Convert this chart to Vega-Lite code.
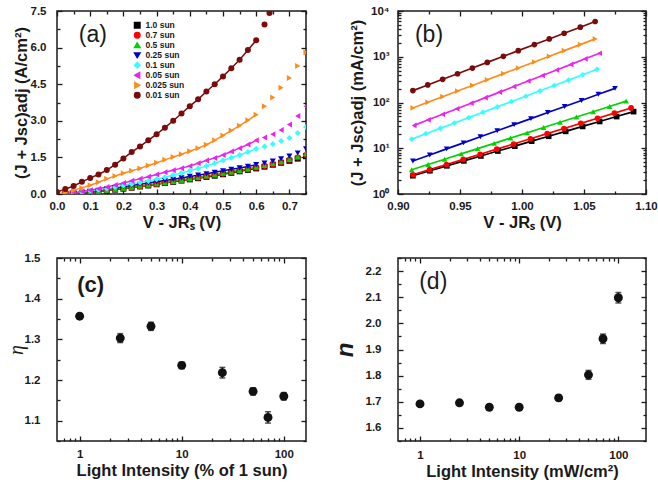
{
"$schema": "https://vega.github.io/schema/vega-lite/v6.json",
"background": "white",
"padding": {"left": 5, "top": 4, "right": 4, "bottom": 4},
"columns": 2,
"spacing": {"row": 64, "column": 92},
"bounds": "flush",
"resolve": {"scale": {"color": "independent", "shape": "independent"}, "legend": {"color": "independent", "shape": "independent"}},
"datasets": {
"a": [
{"s":"1.0 sun","v":0,"j":0},{"s":"1.0 sun","v":0.025,"j":0},{"s":"1.0 sun","v":0.05,"j":0.02},{"s":"1.0 sun","v":0.075,"j":0.04},{"s":"1.0 sun","v":0.1,"j":0.07},{"s":"1.0 sun","v":0.125,"j":0.1},{"s":"1.0 sun","v":0.15,"j":0.14},{"s":"1.0 sun","v":0.175,"j":0.18},{"s":"1.0 sun","v":0.2,"j":0.22},{"s":"1.0 sun","v":0.225,"j":0.26},{"s":"1.0 sun","v":0.25,"j":0.31},{"s":"1.0 sun","v":0.275,"j":0.35},{"s":"1.0 sun","v":0.3,"j":0.4},{"s":"1.0 sun","v":0.325,"j":0.45},{"s":"1.0 sun","v":0.35,"j":0.5},{"s":"1.0 sun","v":0.375,"j":0.55},{"s":"1.0 sun","v":0.4,"j":0.6},{"s":"1.0 sun","v":0.425,"j":0.65},{"s":"1.0 sun","v":0.45,"j":0.7},{"s":"1.0 sun","v":0.475,"j":0.75},{"s":"1.0 sun","v":0.5,"j":0.81},{"s":"1.0 sun","v":0.525,"j":0.87},{"s":"1.0 sun","v":0.55,"j":0.93},{"s":"1.0 sun","v":0.575,"j":0.99},{"s":"1.0 sun","v":0.6,"j":1.05},{"s":"1.0 sun","v":0.625,"j":1.12},{"s":"1.0 sun","v":0.65,"j":1.2},{"s":"1.0 sun","v":0.675,"j":1.28},{"s":"1.0 sun","v":0.7,"j":1.36},{"s":"1.0 sun","v":0.725,"j":1.45},{"s":"1.0 sun","v":0.75,"j":1.55},
{"s":"0.7 sun","v":0,"j":0},{"s":"0.7 sun","v":0.025,"j":0.01},{"s":"0.7 sun","v":0.05,"j":0.03},{"s":"0.7 sun","v":0.075,"j":0.05},{"s":"0.7 sun","v":0.1,"j":0.08},{"s":"0.7 sun","v":0.125,"j":0.11},{"s":"0.7 sun","v":0.15,"j":0.15},{"s":"0.7 sun","v":0.175,"j":0.19},{"s":"0.7 sun","v":0.2,"j":0.23},{"s":"0.7 sun","v":0.225,"j":0.27},{"s":"0.7 sun","v":0.25,"j":0.32},{"s":"0.7 sun","v":0.275,"j":0.36},{"s":"0.7 sun","v":0.3,"j":0.41},{"s":"0.7 sun","v":0.325,"j":0.46},{"s":"0.7 sun","v":0.35,"j":0.51},{"s":"0.7 sun","v":0.375,"j":0.56},{"s":"0.7 sun","v":0.4,"j":0.62},{"s":"0.7 sun","v":0.425,"j":0.67},{"s":"0.7 sun","v":0.45,"j":0.72},{"s":"0.7 sun","v":0.475,"j":0.77},{"s":"0.7 sun","v":0.5,"j":0.83},{"s":"0.7 sun","v":0.525,"j":0.89},{"s":"0.7 sun","v":0.55,"j":0.95},{"s":"0.7 sun","v":0.575,"j":1.01},{"s":"0.7 sun","v":0.6,"j":1.08},{"s":"0.7 sun","v":0.625,"j":1.15},{"s":"0.7 sun","v":0.65,"j":1.22},{"s":"0.7 sun","v":0.675,"j":1.3},{"s":"0.7 sun","v":0.7,"j":1.4},{"s":"0.7 sun","v":0.725,"j":1.5},{"s":"0.7 sun","v":0.75,"j":1.6},
{"s":"0.5 sun","v":0,"j":0},{"s":"0.5 sun","v":0.025,"j":0.01},{"s":"0.5 sun","v":0.05,"j":0.03},{"s":"0.5 sun","v":0.075,"j":0.06},{"s":"0.5 sun","v":0.1,"j":0.09},{"s":"0.5 sun","v":0.125,"j":0.12},{"s":"0.5 sun","v":0.15,"j":0.16},{"s":"0.5 sun","v":0.175,"j":0.2},{"s":"0.5 sun","v":0.2,"j":0.24},{"s":"0.5 sun","v":0.225,"j":0.28},{"s":"0.5 sun","v":0.25,"j":0.33},{"s":"0.5 sun","v":0.275,"j":0.37},{"s":"0.5 sun","v":0.3,"j":0.42},{"s":"0.5 sun","v":0.325,"j":0.47},{"s":"0.5 sun","v":0.35,"j":0.52},{"s":"0.5 sun","v":0.375,"j":0.57},{"s":"0.5 sun","v":0.4,"j":0.63},{"s":"0.5 sun","v":0.425,"j":0.68},{"s":"0.5 sun","v":0.45,"j":0.74},{"s":"0.5 sun","v":0.475,"j":0.79},{"s":"0.5 sun","v":0.5,"j":0.85},{"s":"0.5 sun","v":0.525,"j":0.91},{"s":"0.5 sun","v":0.55,"j":0.97},{"s":"0.5 sun","v":0.575,"j":1.03},{"s":"0.5 sun","v":0.6,"j":1.1},{"s":"0.5 sun","v":0.625,"j":1.17},{"s":"0.5 sun","v":0.65,"j":1.25},{"s":"0.5 sun","v":0.675,"j":1.33},{"s":"0.5 sun","v":0.7,"j":1.42},{"s":"0.5 sun","v":0.725,"j":1.53},{"s":"0.5 sun","v":0.75,"j":1.65},
{"s":"0.25 sun","v":0,"j":0},{"s":"0.25 sun","v":0.025,"j":0.01},{"s":"0.25 sun","v":0.05,"j":0.03},{"s":"0.25 sun","v":0.075,"j":0.07},{"s":"0.25 sun","v":0.1,"j":0.11},{"s":"0.25 sun","v":0.125,"j":0.15},{"s":"0.25 sun","v":0.15,"j":0.2},{"s":"0.25 sun","v":0.175,"j":0.25},{"s":"0.25 sun","v":0.2,"j":0.3},{"s":"0.25 sun","v":0.225,"j":0.35},{"s":"0.25 sun","v":0.25,"j":0.4},{"s":"0.25 sun","v":0.275,"j":0.45},{"s":"0.25 sun","v":0.3,"j":0.5},{"s":"0.25 sun","v":0.325,"j":0.55},{"s":"0.25 sun","v":0.35,"j":0.6},{"s":"0.25 sun","v":0.375,"j":0.66},{"s":"0.25 sun","v":0.4,"j":0.72},{"s":"0.25 sun","v":0.425,"j":0.77},{"s":"0.25 sun","v":0.45,"j":0.83},{"s":"0.25 sun","v":0.475,"j":0.89},{"s":"0.25 sun","v":0.5,"j":0.95},{"s":"0.25 sun","v":0.525,"j":1.01},{"s":"0.25 sun","v":0.55,"j":1.07},{"s":"0.25 sun","v":0.575,"j":1.13},{"s":"0.25 sun","v":0.6,"j":1.2},{"s":"0.25 sun","v":0.625,"j":1.27},{"s":"0.25 sun","v":0.65,"j":1.35},{"s":"0.25 sun","v":0.675,"j":1.44},{"s":"0.25 sun","v":0.7,"j":1.55},{"s":"0.25 sun","v":0.725,"j":1.68},{"s":"0.25 sun","v":0.75,"j":1.85},
{"s":"0.1 sun","v":0,"j":0},{"s":"0.1 sun","v":0.025,"j":0.01},{"s":"0.1 sun","v":0.05,"j":0.04},{"s":"0.1 sun","v":0.075,"j":0.08},{"s":"0.1 sun","v":0.1,"j":0.13},{"s":"0.1 sun","v":0.125,"j":0.17},{"s":"0.1 sun","v":0.15,"j":0.22},{"s":"0.1 sun","v":0.175,"j":0.28},{"s":"0.1 sun","v":0.2,"j":0.35},{"s":"0.1 sun","v":0.225,"j":0.41},{"s":"0.1 sun","v":0.25,"j":0.47},{"s":"0.1 sun","v":0.275,"j":0.53},{"s":"0.1 sun","v":0.3,"j":0.6},{"s":"0.1 sun","v":0.325,"j":0.69},{"s":"0.1 sun","v":0.35,"j":0.78},{"s":"0.1 sun","v":0.375,"j":0.86},{"s":"0.1 sun","v":0.4,"j":0.95},{"s":"0.1 sun","v":0.425,"j":1.05},{"s":"0.1 sun","v":0.45,"j":1.15},{"s":"0.1 sun","v":0.475,"j":1.26},{"s":"0.1 sun","v":0.5,"j":1.38},{"s":"0.1 sun","v":0.525,"j":1.49},{"s":"0.1 sun","v":0.55,"j":1.6},{"s":"0.1 sun","v":0.575,"j":1.72},{"s":"0.1 sun","v":0.6,"j":1.85},{"s":"0.1 sun","v":0.625,"j":1.95},{"s":"0.1 sun","v":0.65,"j":2.05},{"s":"0.1 sun","v":0.675,"j":2.17},{"s":"0.1 sun","v":0.7,"j":2.3},{"s":"0.1 sun","v":0.725,"j":2.5},{"s":"0.1 sun","v":0.75,"j":2.75},
{"s":"0.05 sun","v":0,"j":0},{"s":"0.05 sun","v":0.025,"j":0.02},{"s":"0.05 sun","v":0.05,"j":0.05},{"s":"0.05 sun","v":0.075,"j":0.1},{"s":"0.05 sun","v":0.1,"j":0.15},{"s":"0.05 sun","v":0.125,"j":0.22},{"s":"0.05 sun","v":0.15,"j":0.29},{"s":"0.05 sun","v":0.175,"j":0.37},{"s":"0.05 sun","v":0.2,"j":0.45},{"s":"0.05 sun","v":0.225,"j":0.54},{"s":"0.05 sun","v":0.25,"j":0.62},{"s":"0.05 sun","v":0.275,"j":0.71},{"s":"0.05 sun","v":0.3,"j":0.8},{"s":"0.05 sun","v":0.325,"j":0.89},{"s":"0.05 sun","v":0.35,"j":0.97},{"s":"0.05 sun","v":0.375,"j":1.06},{"s":"0.05 sun","v":0.4,"j":1.15},{"s":"0.05 sun","v":0.425,"j":1.26},{"s":"0.05 sun","v":0.45,"j":1.37},{"s":"0.05 sun","v":0.475,"j":1.48},{"s":"0.05 sun","v":0.5,"j":1.6},{"s":"0.05 sun","v":0.525,"j":1.74},{"s":"0.05 sun","v":0.55,"j":1.88},{"s":"0.05 sun","v":0.575,"j":2.03},{"s":"0.05 sun","v":0.6,"j":2.2},{"s":"0.05 sun","v":0.625,"j":2.32},{"s":"0.05 sun","v":0.65,"j":2.45},{"s":"0.05 sun","v":0.675,"j":2.62},{"s":"0.05 sun","v":0.7,"j":2.85},{"s":"0.05 sun","v":0.725,"j":3.2},{"s":"0.05 sun","v":0.75,"j":3.6},
{"s":"0.025 sun","v":0,"j":0},{"s":"0.025 sun","v":0.025,"j":0.06},{"s":"0.025 sun","v":0.05,"j":0.15},{"s":"0.025 sun","v":0.075,"j":0.25},{"s":"0.025 sun","v":0.1,"j":0.36},{"s":"0.025 sun","v":0.125,"j":0.48},{"s":"0.025 sun","v":0.15,"j":0.62},{"s":"0.025 sun","v":0.175,"j":0.74},{"s":"0.025 sun","v":0.2,"j":0.85},{"s":"0.025 sun","v":0.225,"j":0.95},{"s":"0.025 sun","v":0.25,"j":1.05},{"s":"0.025 sun","v":0.275,"j":1.17},{"s":"0.025 sun","v":0.3,"j":1.28},{"s":"0.025 sun","v":0.325,"j":1.4},{"s":"0.025 sun","v":0.35,"j":1.52},{"s":"0.025 sun","v":0.375,"j":1.63},{"s":"0.025 sun","v":0.4,"j":1.75},{"s":"0.025 sun","v":0.425,"j":1.88},{"s":"0.025 sun","v":0.45,"j":2.02},{"s":"0.025 sun","v":0.475,"j":2.2},{"s":"0.025 sun","v":0.5,"j":2.4},{"s":"0.025 sun","v":0.525,"j":2.6},{"s":"0.025 sun","v":0.55,"j":2.8},{"s":"0.025 sun","v":0.575,"j":3.02},{"s":"0.025 sun","v":0.6,"j":3.25},{"s":"0.025 sun","v":0.625,"j":3.6},{"s":"0.025 sun","v":0.65,"j":3.95},{"s":"0.025 sun","v":0.675,"j":4.35},{"s":"0.025 sun","v":0.7,"j":4.75},{"s":"0.025 sun","v":0.725,"j":5.25},{"s":"0.025 sun","v":0.75,"j":5.8},
{"s":"0.01 sun","v":0,"j":0.08},{"s":"0.01 sun","v":0.025,"j":0.2},{"s":"0.01 sun","v":0.05,"j":0.33},{"s":"0.01 sun","v":0.075,"j":0.5},{"s":"0.01 sun","v":0.1,"j":0.66},{"s":"0.01 sun","v":0.125,"j":0.8},{"s":"0.01 sun","v":0.15,"j":0.98},{"s":"0.01 sun","v":0.175,"j":1.2},{"s":"0.01 sun","v":0.2,"j":1.46},{"s":"0.01 sun","v":0.225,"j":1.72},{"s":"0.01 sun","v":0.25,"j":1.95},{"s":"0.01 sun","v":0.275,"j":2.2},{"s":"0.01 sun","v":0.3,"j":2.45},{"s":"0.01 sun","v":0.325,"j":2.72},{"s":"0.01 sun","v":0.35,"j":3.0},{"s":"0.01 sun","v":0.375,"j":3.3},{"s":"0.01 sun","v":0.4,"j":3.6},{"s":"0.01 sun","v":0.425,"j":3.88},{"s":"0.01 sun","v":0.45,"j":4.2},{"s":"0.01 sun","v":0.475,"j":4.5},{"s":"0.01 sun","v":0.5,"j":4.82},{"s":"0.01 sun","v":0.525,"j":5.15},{"s":"0.01 sun","v":0.55,"j":5.5},{"s":"0.01 sun","v":0.575,"j":5.9},{"s":"0.01 sun","v":0.6,"j":6.3},{"s":"0.01 sun","v":0.625,"j":6.95},{"s":"0.01 sun","v":0.64,"j":7.42}
],
"b": [
{"s":"1.0 sun","v":0.912,"j":2.51},{"s":"1.0 sun","v":0.9257,"j":3.22},{"s":"1.0 sun","v":0.9394,"j":4.13},{"s":"1.0 sun","v":0.9531,"j":5.29},{"s":"1.0 sun","v":0.9668,"j":6.78},{"s":"1.0 sun","v":0.9805,"j":8.69},{"s":"1.0 sun","v":0.9942,"j":11.1},{"s":"1.0 sun","v":1.0078,"j":14.3},{"s":"1.0 sun","v":1.0215,"j":18.3},{"s":"1.0 sun","v":1.0352,"j":23.4},{"s":"1.0 sun","v":1.0489,"j":30.0},{"s":"1.0 sun","v":1.0626,"j":38.5},{"s":"1.0 sun","v":1.0763,"j":49.3},{"s":"1.0 sun","v":1.09,"j":63.2},
{"s":"0.7 sun","v":0.912,"j":2.63},{"s":"0.7 sun","v":0.9255,"j":3.4},{"s":"0.7 sun","v":0.9391,"j":4.42},{"s":"0.7 sun","v":0.9526,"j":5.71},{"s":"0.7 sun","v":0.9662,"j":7.41},{"s":"0.7 sun","v":0.9797,"j":9.59},{"s":"0.7 sun","v":0.9932,"j":12.4},{"s":"0.7 sun","v":1.0068,"j":16.1},{"s":"0.7 sun","v":1.0203,"j":20.9},{"s":"0.7 sun","v":1.0338,"j":27.0},{"s":"0.7 sun","v":1.0474,"j":35.0},{"s":"0.7 sun","v":1.0609,"j":45.3},{"s":"0.7 sun","v":1.0745,"j":58.7},{"s":"0.7 sun","v":1.088,"j":76.0},
{"s":"0.5 sun","v":0.911,"j":3.39},{"s":"0.5 sun","v":0.9243,"j":4.42},{"s":"0.5 sun","v":0.9376,"j":5.76},{"s":"0.5 sun","v":0.9509,"j":7.52},{"s":"0.5 sun","v":0.9642,"j":9.8},{"s":"0.5 sun","v":0.9775,"j":12.8},{"s":"0.5 sun","v":0.9908,"j":16.7},{"s":"0.5 sun","v":1.0041,"j":21.7},{"s":"0.5 sun","v":1.0174,"j":28.4},{"s":"0.5 sun","v":1.0307,"j":37.0},{"s":"0.5 sun","v":1.044,"j":48.2},{"s":"0.5 sun","v":1.0573,"j":62.9},{"s":"0.5 sun","v":1.0706,"j":82.0},{"s":"0.5 sun","v":1.084,"j":107},
{"s":"0.25 sun","v":0.912,"j":5.25},{"s":"0.25 sun","v":0.9256,"j":7.12},{"s":"0.25 sun","v":0.9392,"j":9.67},{"s":"0.25 sun","v":0.9528,"j":13.1},{"s":"0.25 sun","v":0.9664,"j":17.8},{"s":"0.25 sun","v":0.98,"j":24.2},{"s":"0.25 sun","v":0.9936,"j":32.8},{"s":"0.25 sun","v":1.0072,"j":44.5},{"s":"0.25 sun","v":1.0208,"j":60.4},{"s":"0.25 sun","v":1.0344,"j":82.0},{"s":"0.25 sun","v":1.048,"j":111},{"s":"0.25 sun","v":1.0616,"j":151},{"s":"0.25 sun","v":1.075,"j":204},
{"s":"0.1 sun","v":0.911,"j":15.8},{"s":"0.1 sun","v":0.9225,"j":20.8},{"s":"0.1 sun","v":0.934,"j":27.2},{"s":"0.1 sun","v":0.9455,"j":35.6},{"s":"0.1 sun","v":0.957,"j":46.7},{"s":"0.1 sun","v":0.9685,"j":61.2},{"s":"0.1 sun","v":0.98,"j":80.1},{"s":"0.1 sun","v":0.9915,"j":105},{"s":"0.1 sun","v":1.003,"j":137},{"s":"0.1 sun","v":1.0145,"j":180},{"s":"0.1 sun","v":1.026,"j":236},{"s":"0.1 sun","v":1.0375,"j":309},{"s":"0.1 sun","v":1.049,"j":405},{"s":"0.1 sun","v":1.0605,"j":531},
{"s":"0.05 sun","v":0.913,"j":31.6},{"s":"0.05 sun","v":0.9245,"j":41.8},{"s":"0.05 sun","v":0.936,"j":55.2},{"s":"0.05 sun","v":0.9475,"j":73.0},{"s":"0.05 sun","v":0.959,"j":96.6},{"s":"0.05 sun","v":0.9705,"j":127.7},{"s":"0.05 sun","v":0.982,"j":168.8},{"s":"0.05 sun","v":0.9935,"j":223},{"s":"0.05 sun","v":1.005,"j":295},{"s":"0.05 sun","v":1.0165,"j":390},{"s":"0.05 sun","v":1.028,"j":515},{"s":"0.05 sun","v":1.0395,"j":681},{"s":"0.05 sun","v":1.051,"j":901},{"s":"0.05 sun","v":1.0625,"j":1191},
{"s":"0.025 sun","v":0.912,"j":76},{"s":"0.025 sun","v":0.924,"j":101},{"s":"0.025 sun","v":0.936,"j":134},{"s":"0.025 sun","v":0.948,"j":178},{"s":"0.025 sun","v":0.96,"j":236},{"s":"0.025 sun","v":0.972,"j":313},{"s":"0.025 sun","v":0.985,"j":427},{"s":"0.025 sun","v":0.997,"j":566},{"s":"0.025 sun","v":1.01,"j":769},{"s":"0.025 sun","v":1.022,"j":1023},{"s":"0.025 sun","v":1.034,"j":1358},{"s":"0.025 sun","v":1.047,"j":1845},{"s":"0.025 sun","v":1.059,"j":2455},
{"s":"0.01 sun","v":0.912,"j":182},{"s":"0.01 sun","v":0.924,"j":242},{"s":"0.01 sun","v":0.936,"j":321},{"s":"0.01 sun","v":0.948,"j":426},{"s":"0.01 sun","v":0.96,"j":566},{"s":"0.01 sun","v":0.972,"j":752},{"s":"0.01 sun","v":0.985,"j":1023},{"s":"0.01 sun","v":0.997,"j":1358},{"s":"0.01 sun","v":1.01,"j":1847},{"s":"0.01 sun","v":1.022,"j":2453},{"s":"0.01 sun","v":1.034,"j":3258},{"s":"0.01 sun","v":1.047,"j":4430},{"s":"0.01 sun","v":1.059,"j":5888}
],
"c": [
{"i":1,"eta":1.357,"lo":1.351,"hi":1.363},{"i":2.5,"eta":1.303,"lo":1.292,"hi":1.314},{"i":5,"eta":1.332,"lo":1.322,"hi":1.342},{"i":10,"eta":1.236,"lo":1.228,"hi":1.244},{"i":25,"eta":1.218,"lo":1.205,"hi":1.231},{"i":50,"eta":1.172,"lo":1.163,"hi":1.181},{"i":70,"eta":1.108,"lo":1.094,"hi":1.122},{"i":100,"eta":1.16,"lo":1.151,"hi":1.169}
],
"d": [
{"i":1,"n":1.692,"lo":1.684,"hi":1.7},{"i":2.5,"n":1.696,"lo":1.688,"hi":1.704},{"i":5,"n":1.679,"lo":1.672,"hi":1.686},{"i":10,"n":1.679,"lo":1.672,"hi":1.686},{"i":25,"n":1.715,"lo":1.705,"hi":1.725},{"i":50,"n":1.803,"lo":1.786,"hi":1.82},{"i":70,"n":1.941,"lo":1.923,"hi":1.959},{"i":100,"n":2.098,"lo":2.078,"hi":2.118}
]
},
"concat": [
{
"width": 249, "height": 183,
"resolve": {"axis": {"x": "independent", "y": "independent"}},
"layer": [
{"data": {"name": "a"}, "transform": [{"filter": "datum.v <= 0.6"}],
 "mark": {"type": "line", "strokeWidth": 1.5, "clip": true},
 "encoding": {
  "x": {"field": "v", "type": "quantitative", "scale": {"domain": [0, 0.75], "nice": false, "zero": false},
   "axis": {"orient": "bottom", "values": [0,0.05,0.1,0.15,0.2,0.25,0.3,0.35,0.4,0.45,0.5,0.55,0.6,0.65,0.7,0.75], "labelExpr": "round(datum.value*20)%2==0 ? format(datum.value,'.1f') : ''", "tickDash": {"condition": {"test": "round(datum.value*20)%2==1", "value": [3,10]}, "value": [6,0]}, "labelPadding": 11, "title": "V - JRₛ (V)", "titlePadding": 3}},
  "y": {"field": "j", "type": "quantitative", "scale": {"domain": [0, 7.5], "nice": false, "zero": false},
   "axis": {"orient": "left", "values": [0,0.75,1.5,2.25,3,3.75,4.5,5.25,6,6.75,7.5], "labelExpr": "round(datum.value/0.75)%2==0 ? format(datum.value,'.1f') : ''", "tickDash": {"condition": {"test": "round(datum.value/0.75)%2==1", "value": [3,10]}, "value": [6,0]}, "labelPadding": 16, "title": "(J + Jsc)adj (A/cm²)", "titlePadding": 1}},
  "color": {"field": "s", "type": "nominal", "scale": {"domain": ["1.0 sun","0.7 sun","0.5 sun","0.25 sun","0.1 sun","0.05 sun","0.025 sun","0.01 sun"], "range": ["#000000","#ff0000","#00d400","#0000cc","#33ffff","#ee22ee","#ff8c1a","#7b0a0a"]},
   "legend": {"orient": "none", "legendX": 76, "legendY": 10, "title": null, "padding": 0, "rowPadding": -2.3, "symbolSize": 30, "labelFontSize": 8.5, "labelFont": "Liberation Sans", "labelFontWeight": "bold", "labelColor": "#1a1a1a", "labelOffset": 4}}
 }},
{"data": {"name": "a"},
 "mark": {"type": "point", "filled": true, "size": 36, "opacity": 1, "clip": true},
 "encoding": {
  "x": {"field": "v", "type": "quantitative", "axis": null},
  "y": {"field": "j", "type": "quantitative", "axis": null},
  "color": {"field": "s", "type": "nominal", "scale": {"domain": ["1.0 sun","0.7 sun","0.5 sun","0.25 sun","0.1 sun","0.05 sun","0.025 sun","0.01 sun"], "range": ["#000000","#ff0000","#00d400","#0000cc","#33ffff","#ee22ee","#ff8c1a","#7b0a0a"]},
   "legend": {"orient": "none", "legendX": 76, "legendY": 10, "title": null, "padding": 0, "rowPadding": -2.3, "symbolSize": 30, "labelFontSize": 8.5, "labelFont": "Liberation Sans", "labelFontWeight": "bold", "labelColor": "#1a1a1a", "labelOffset": 4}},
  "shape": {"field": "s", "type": "nominal", "scale": {"domain": ["1.0 sun","0.7 sun","0.5 sun","0.25 sun","0.1 sun","0.05 sun","0.025 sun","0.01 sun"], "range": ["square","circle","triangle-up","triangle-down","diamond","triangle-left","triangle-right","circle"]},
   "legend": {"orient": "none", "legendX": 76, "legendY": 10, "title": null, "padding": 0, "rowPadding": -2.3, "symbolSize": 30, "labelFontSize": 8.5, "labelFont": "Liberation Sans", "labelFontWeight": "bold", "labelColor": "#1a1a1a", "labelOffset": 4}}
 }},
{"data": {"values": [{"t": "(a)"}]},
 "mark": {"type": "text", "font": "Liberation Sans", "fontSize": 23, "color": "#1a1a1a", "baseline": "middle"},
 "encoding": {
  "text": {"field": "t"},
  "x": {"datum": 0.108, "type": "quantitative", "axis": {"orient": "top", "labels": false, "title": null, "values": [0,0.05,0.1,0.15,0.2,0.25,0.3,0.35,0.4,0.45,0.5,0.55,0.6,0.65,0.7,0.75], "tickDash": {"condition": {"test": "round(datum.value*20)%2==1", "value": [3,10]}, "value": [6,0]}}},
  "y": {"datum": 6.5, "type": "quantitative", "axis": {"orient": "right", "labels": false, "title": null, "values": [0,0.75,1.5,2.25,3,3.75,4.5,5.25,6,6.75,7.5], "tickDash": {"condition": {"test": "round(datum.value/0.75)%2==1", "value": [3,10]}, "value": [6,0]}}}
 }}
]
},
{
"width": 248, "height": 183,
"resolve": {"axis": {"x": "independent", "y": "independent"}},
"layer": [
{"data": {"name": "b"},
 "mark": {"type": "line", "strokeWidth": 1.7, "clip": true},
 "encoding": {
  "x": {"field": "v", "type": "quantitative", "scale": {"domain": [0.9, 1.1], "nice": false, "zero": false},
   "axis": {"orient": "bottom", "values": [0.9,0.925,0.95,0.975,1,1.025,1.05,1.075,1.1], "labelExpr": "round(datum.value*40)%2==0 ? format(datum.value,'.2f') : ''", "tickDash": {"condition": {"test": "round(datum.value*40)%2==1", "value": [3,10]}, "value": [6,0]}, "labelPadding": 11, "title": "V - JRₛ (V)", "titlePadding": 3}},
  "y": {"field": "j", "type": "quantitative", "scale": {"type": "log", "domain": [1, 10000], "nice": false},
   "axis": {"orient": "left", "values": [1,2,3,4,5,6,7,8,9,10,20,30,40,50,60,70,80,90,100,200,300,400,500,600,700,800,900,1000,2000,3000,4000,5000,6000,7000,8000,9000,10000], "labelExpr": "datum.value==1?'10⁰':datum.value==10?'10¹':datum.value==100?'10²':datum.value==1000?'10³':datum.value==10000?'10⁴':''", "tickDash": {"condition": {"test": "indexof([1,10,100,1000,10000],datum.value)<0", "value": [3,10]}, "value": [6,0]}, "labelPadding": 14, "title": "(J + Jsc)adj (mA/cm²)", "titlePadding": 5}},
  "color": {"field": "s", "type": "nominal", "scale": {"domain": ["1.0 sun","0.7 sun","0.5 sun","0.25 sun","0.1 sun","0.05 sun","0.025 sun","0.01 sun"], "range": ["#000000","#ff0000","#00d400","#0000cc","#33ffff","#ee22ee","#ff8c1a","#7b0a0a"]}, "legend": null}
 }},
{"data": {"name": "b"},
 "mark": {"type": "point", "filled": true, "size": 32, "opacity": 1, "clip": true},
 "encoding": {
  "x": {"field": "v", "type": "quantitative", "axis": null},
  "y": {"field": "j", "type": "quantitative", "axis": null},
  "color": {"field": "s", "type": "nominal", "scale": {"domain": ["1.0 sun","0.7 sun","0.5 sun","0.25 sun","0.1 sun","0.05 sun","0.025 sun","0.01 sun"], "range": ["#000000","#ff0000","#00d400","#0000cc","#33ffff","#ee22ee","#ff8c1a","#7b0a0a"]}, "legend": null},
  "shape": {"field": "s", "type": "nominal", "scale": {"domain": ["1.0 sun","0.7 sun","0.5 sun","0.25 sun","0.1 sun","0.05 sun","0.025 sun","0.01 sun"], "range": ["square","circle","triangle-up","triangle-down","diamond","triangle-left","triangle-right","circle"]}, "legend": null}
 }},
{"data": {"values": [{"t": "(b)"}]},
 "mark": {"type": "text", "font": "Liberation Sans", "fontSize": 23, "color": "#1a1a1a", "baseline": "middle"},
 "encoding": {
  "text": {"field": "t"},
  "x": {"datum": 0.925, "type": "quantitative", "axis": {"orient": "top", "labels": false, "title": null, "values": [0.9,0.925,0.95,0.975,1,1.025,1.05,1.075,1.1], "tickDash": {"condition": {"test": "round(datum.value*40)%2==1", "value": [3,10]}, "value": [6,0]}}},
  "y": {"datum": 2985, "type": "quantitative", "axis": {"orient": "right", "labels": false, "title": null, "values": [1,2,3,4,5,6,7,8,9,10,20,30,40,50,60,70,80,90,100,200,300,400,500,600,700,800,900,1000,2000,3000,4000,5000,6000,7000,8000,9000,10000], "tickDash": {"condition": {"test": "indexof([1,10,100,1000,10000],datum.value)<0", "value": [3,10]}, "value": [6,0]}}}
 }}
]
},
{
"width": 249, "height": 183,
"resolve": {"axis": {"x": "independent", "y": "independent"}},
"layer": [
{"data": {"name": "c"},
 "mark": {"type": "errorbar", "ticks": {"size": 6, "thickness": 1.5}, "rule": {"strokeWidth": 1.5}, "color": "#111111"},
 "encoding": {
  "x": {"field": "i", "type": "quantitative", "scale": {"type": "log", "domain": [0.6, 165], "nice": false}, "axis": null},
  "y": {"field": "lo", "type": "quantitative", "scale": {"domain": [1.05, 1.5], "nice": false, "zero": false}, "axis": null},
  "y2": {"field": "hi"}
 }},
{"data": {"name": "c"},
 "mark": {"type": "point", "filled": true, "size": 80, "opacity": 1, "color": "#111111"},
 "encoding": {
  "x": {"field": "i", "type": "quantitative",
   "axis": {"orient": "bottom", "values": [0.7,0.8,0.9,1,2,3,4,5,6,7,8,9,10,20,30,40,50,60,70,80,90,100], "labelExpr": "datum.value==1?'1':datum.value==10?'10':datum.value==100?'100':''", "tickDash": {"condition": {"test": "indexof([1,10,100],datum.value)<0", "value": [3,10]}, "value": [6,0]}, "labelPadding": 12, "title": "Light Intensity (% of 1 sun)", "titlePadding": 3}},
  "y": {"field": "eta", "type": "quantitative",
   "axis": {"orient": "left", "values": [1.05,1.1,1.15,1.2,1.25,1.3,1.35,1.4,1.45,1.5], "labelExpr": "round(datum.value*20)%2==0 ? format(datum.value,'.1f') : ''", "tickDash": {"condition": {"test": "round(datum.value*20)%2==1", "value": [3,10]}, "value": [6,0]}, "labelPadding": 22, "title": "η", "titleFont": "Liberation Serif", "titleFontStyle": "italic", "titleFontWeight": "normal", "titleFontSize": 20, "titlePadding": -2}}
 }},
{"data": {"values": [{"t": "(c)"}]},
 "mark": {"type": "text", "font": "Liberation Sans", "fontSize": 22, "fontWeight": "bold", "color": "#1a1a1a", "baseline": "middle"},
 "encoding": {
  "text": {"field": "t"},
  "x": {"datum": 1.28, "type": "quantitative", "axis": {"orient": "top", "labels": false, "title": null, "values": [0.7,0.8,0.9,1,2,3,4,5,6,7,8,9,10,20,30,40,50,60,70,80,90,100], "tickDash": {"condition": {"test": "indexof([1,10,100],datum.value)<0", "value": [3,10]}, "value": [6,0]}}},
  "y": {"datum": 1.434, "type": "quantitative", "axis": {"orient": "right", "labels": false, "title": null, "values": [1.05,1.1,1.15,1.2,1.25,1.3,1.35,1.4,1.45,1.5], "tickDash": {"condition": {"test": "round(datum.value*20)%2==1", "value": [3,10]}, "value": [6,0]}}}
 }}
]
},
{
"width": 248, "height": 183,
"resolve": {"axis": {"x": "independent", "y": "independent"}},
"layer": [
{"data": {"name": "d"},
 "mark": {"type": "errorbar", "ticks": {"size": 6, "thickness": 1.5}, "rule": {"strokeWidth": 1.5}, "color": "#111111"},
 "encoding": {
  "x": {"field": "i", "type": "quantitative", "scale": {"type": "log", "domain": [0.6, 190], "nice": false}, "axis": null},
  "y": {"field": "lo", "type": "quantitative", "scale": {"domain": [1.55, 2.25], "nice": false, "zero": false}, "axis": null},
  "y2": {"field": "hi"}
 }},
{"data": {"name": "d"},
 "mark": {"type": "point", "filled": true, "size": 80, "opacity": 1, "color": "#111111"},
 "encoding": {
  "x": {"field": "i", "type": "quantitative",
   "axis": {"orient": "bottom", "values": [0.7,0.8,0.9,1,2,3,4,5,6,7,8,9,10,20,30,40,50,60,70,80,90,100], "labelExpr": "datum.value==1?'1':datum.value==10?'10':datum.value==100?'100':''", "tickDash": {"condition": {"test": "indexof([1,10,100],datum.value)<0", "value": [3,10]}, "value": [6,0]}, "labelPadding": 13, "title": "Light Intensity (mW/cm²)", "titlePadding": 3}},
  "y": {"field": "n", "type": "quantitative",
   "axis": {"orient": "left", "values": [1.55,1.6,1.65,1.7,1.75,1.8,1.85,1.9,1.95,2.0,2.05,2.1,2.15,2.2,2.25], "labelExpr": "round(datum.value*20)%2==0 ? format(datum.value,'.1f') : ''", "tickDash": {"condition": {"test": "round(datum.value*20)%2==1", "value": [3,10]}, "value": [6,0]}, "labelPadding": 22, "title": "n", "titleFontStyle": "italic", "titleFontSize": 24, "titlePadding": 8}}
 }},
{"data": {"values": [{"t": "(d)"}]},
 "mark": {"type": "text", "font": "Liberation Sans", "fontSize": 23, "color": "#1a1a1a", "baseline": "middle"},
 "encoding": {
  "text": {"field": "t"},
  "x": {"datum": 1.36, "type": "quantitative", "axis": {"orient": "top", "labels": false, "title": null, "values": [0.7,0.8,0.9,1,2,3,4,5,6,7,8,9,10,20,30,40,50,60,70,80,90,100], "tickDash": {"condition": {"test": "indexof([1,10,100],datum.value)<0", "value": [3,10]}, "value": [6,0]}}},
  "y": {"datum": 2.157, "type": "quantitative", "axis": {"orient": "right", "labels": false, "title": null, "values": [1.55,1.6,1.65,1.7,1.75,1.8,1.85,1.9,1.95,2.0,2.05,2.1,2.15,2.2,2.25], "tickDash": {"condition": {"test": "round(datum.value*20)%2==1", "value": [3,10]}, "value": [6,0]}}}
 }}
]
}
],
"config": {
 "view": {"stroke": "#1a1a1a", "strokeWidth": 1.5},
 "axis": {"domain": false, "grid": false, "tickSize": -5, "tickColor": "#1a1a1a", "tickWidth": 1.3, "labelFont": "Liberation Sans", "labelFontSize": 11.5, "labelFontWeight": "bold", "labelColor": "#1a1a1a", "labelFlush": false, "labelOverlap": false, "titleFont": "Liberation Sans", "titleFontSize": 16.5, "titleFontWeight": "bold", "titleColor": "#1a1a1a"}
}
}
